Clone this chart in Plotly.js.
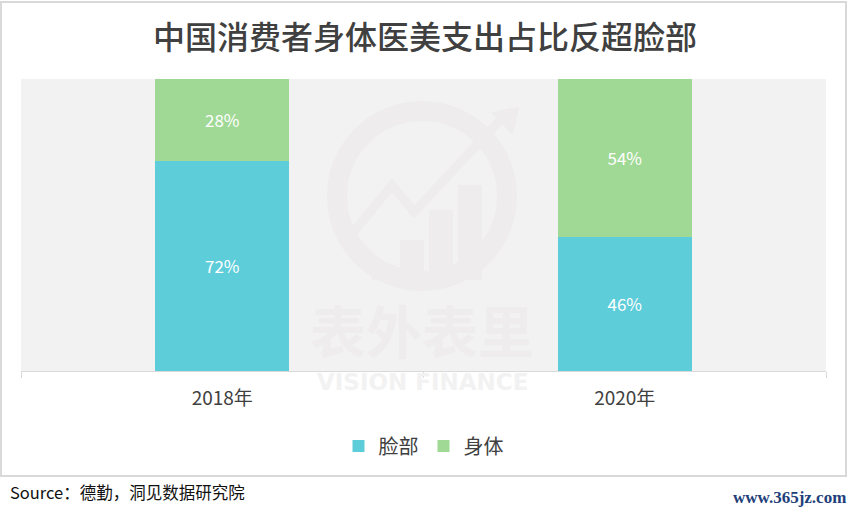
<!DOCTYPE html>
<html>
<head>
<meta charset="utf-8">
<script src="https://cdn.plot.ly/plotly-3.0.1.min.js"></script>
<style>html,body{margin:0;padding:0;background:#fff;}#chart{width:850px;height:514px;}</style>
</head>
<body>
<div id="chart"></div>
<script>
var categories = ['2018年', '2020年'];
var faceShare = [72, 46];
var bodyShare = [28, 54];
var seriesNames = ['脸部', '身体'];

var L = 21, R = 826, T = 79, B = 371;
function px(x){ return (x - L) / (R - L); }
function py(y){ return (B - y) / (B - T); }

var font = '"Noto Sans CJK SC", "Noto Sans", sans-serif';
var wm = '#EEECEC';

var traces = [
  {type:'bar', name:seriesNames[0], x:categories, y:faceShare,
   marker:{color:'#5ECDDA'}, texttemplate:'%{y}%', textposition:'inside',
   insidetextanchor:'middle', textfont:{color:'#ffffff', size:17, family:font},
   hoverinfo:'none'},
  {type:'bar', name:seriesNames[1], x:categories, y:bodyShare,
   marker:{color:'#A0D995'}, texttemplate:'%{y}%', textposition:'inside',
   insidetextanchor:'middle', textfont:{color:'#ffffff', size:17, family:font},
   hoverinfo:'none'}
];

var shapes = [
  {type:'rect', xref:'paper', yref:'paper', x0:px(1), x1:px(846), y0:py(2), y1:py(476),
   line:{color:'#D9D9D9', width:2}, layer:'below'},
  {type:'circle', xref:'paper', yref:'paper', x0:px(337), x1:px(507), y0:py(111), y1:py(281),
   line:{color:wm, width:20}, layer:'below'},
  {type:'path', xref:'paper', yref:'paper',
   path:'M '+px(343)+' '+py(245)+' L '+px(392)+' '+py(185)+' L '+px(414)+' '+py(212)+' L '+px(505)+' '+py(115),
   line:{color:wm, width:9}, layer:'below'},
  {type:'path', xref:'paper', yref:'paper',
   path:'M '+px(493)+' '+py(113)+' L '+px(518)+' '+py(108)+' L '+px(512)+' '+py(133)+' Z',
   fillcolor:wm, line:{color:wm, width:2}, layer:'below'}
];
var barsX = [[372,396,265],[400,424,240],[429,453,210],[458,482,185]];
barsX.forEach(function(b){
  shapes.push({type:'rect', xref:'paper', yref:'paper', x0:px(b[0]), x1:px(b[1]), y0:py(280), y1:py(b[2]),
    fillcolor:wm, line:{width:0}, layer:'below'});
});

var layout = {
  width:850, height:514,
  margin:{l:L, r:850-R, t:T, b:514-B, pad:0},
  paper_bgcolor:'#ffffff', plot_bgcolor:'#F2F2F2',
  barmode:'stack', bargap:0.667,
  title:{text:'中国消费者身体医美支出占比反超脸部', x:0.5, xanchor:'center', y:1-38/514, yanchor:'middle',
         font:{family:font, size:32, color:'#404040', weight:500}},
  xaxis:{type:'category', showgrid:false, showline:true, linecolor:'#D9D9D9', linewidth:1,
         ticks:'outside', tickson:'boundaries', ticklen:6, tickcolor:'#D9D9D9',
         ticklabelstandoff:10,
         tickfont:{family:font, size:19, color:'#404040'}, fixedrange:true},
  yaxis:{range:[0,100], visible:false, showgrid:false, zeroline:false, fixedrange:true},
  showlegend:true,
  legend:{orientation:'h', x:0.5, xanchor:'center', y:py(446), yanchor:'middle',
          font:{family:font, size:20, color:'#404040'}, itemwidth:20, traceorder:'normal'},
  shapes:shapes,
  annotations:[
    {xref:'paper', yref:'paper', x:px(422), y:py(328), text:'<b>表外表里</b>', showarrow:false,
     font:{family:font, size:56, color:wm}, xanchor:'center', yanchor:'middle'},
    {xref:'paper', yref:'paper', x:px(422), y:py(382), text:'<b>VISION FINANCE</b>', showarrow:false,
     font:{family:'"DejaVu Sans", sans-serif', size:23, color:'#F3F2F2'}, xanchor:'center', yanchor:'middle'},
    {xref:'paper', yref:'paper', x:px(8), y:py(492), text:'Source：德勤，洞见数据研究院', showarrow:false,
     font:{family:font, size:16.5, color:'#111111'}, xanchor:'left', yanchor:'middle'},
    {xref:'paper', yref:'paper', x:px(848), y:py(497), text:'<b>www.365jz.com</b>', showarrow:false,
     font:{family:'"Liberation Serif", serif', size:17, color:'#1F3F7A'}, xanchor:'right', yanchor:'middle'}
  ]
};

Plotly.newPlot('chart', traces, layout, {displayModeBar:false, staticPlot:true});
</script>
</body>
</html>
